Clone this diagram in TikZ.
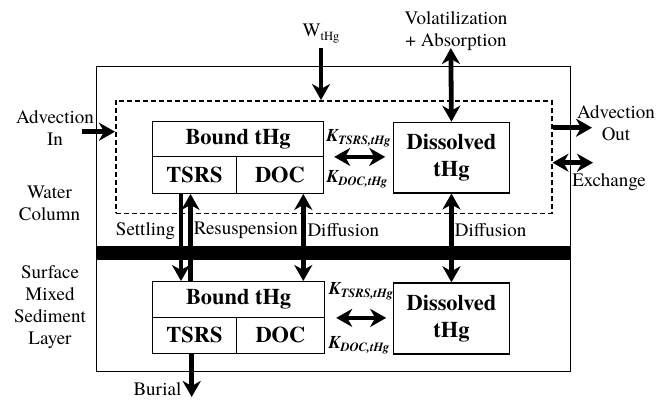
\documentclass[tikz,border=0pt]{standalone}
\usepackage{fontspec}
\setmainfont{texgyretermes}[Extension=.otf, UprightFont=*-regular, BoldFont=*-bold, ItalicFont=*-italic, BoldItalicFont=*-bolditalic]
\usetikzlibrary{arrows.meta}
\begin{document}
\begin{tikzpicture}[x=1pt,y=-1pt,
  txt/.style={inner sep=0pt, align=center, font=\fontsize{19}{22}\selectfont},
  bx/.style={draw, line width=1.2pt, inner sep=0pt, anchor=north west, align=center,
    font=\fontsize{22.4}{27}\selectfont\bfseries},
  frame/.style={draw, line width=1.1pt, inner sep=0pt, anchor=north west},
  arr/.style={line width=4.8pt, -{Stealth[length=16pt,width=18pt,inset=5pt]}},
  darr/.style={line width=4.8pt, {Stealth[length=16pt,width=18pt,inset=5pt]}-{Stealth[length=16pt,width=18pt,inset=5pt]}},
  klab/.style={inner sep=0pt}]
\useasboundingbox (0,0) rectangle (668,399);
% frames
\node[frame, minimum width=474pt, minimum height=305pt] (outer) at (96,66) {};
\node[frame, dashed, dash pattern=on 5pt off 3pt, line width=1.5pt, minimum width=436pt, minimum height=112.7pt] (wc) at (115,100) {};
\fill (96,246) rectangle (570,260);
% water column boxes
\node[bx, minimum width=171pt, minimum height=35pt] (wbt) at (152,120.7) {Bound tHg};
\node[bx, minimum width=83.7pt, minimum height=37pt] (wtsrs) at (152,155.7) {TSRS};
\node[bx, minimum width=87.3pt, minimum height=37pt] (wdoc) at (235.7,155.7) {DOC};
\node[bx, minimum width=115.3pt, minimum height=70.6pt] (dw) at (393.2,121.7) {Dissolved\\tHg};
% sediment boxes
\node[bx, minimum width=172pt, minimum height=35.7pt] (bbt) at (152,281) {Bound tHg};
\node[bx, minimum width=83.7pt, minimum height=36pt] (btsrs) at (152,316.7) {TSRS};
\node[bx, minimum width=88.3pt, minimum height=36pt] (bdoc) at (235.7,316.7) {DOC};
\node[bx, minimum width=115.3pt, minimum height=71pt] (bd) at (393.2,282.3) {Dissolved\\tHg};
% labels
\node[txt] (W) at (321,34) {W\raisebox{-4pt}{\fontsize{12.5}{14}\selectfont tHg}};
\node[txt] (vol) at (456,31) {Volatilization\\+ Absorption};
\node[txt] (ain) at (55,128.5) {Advection\\In};
\node[txt] (aout) at (616,123) {Advection\\Out};
\node[txt] (exl) at (609,181.7) {Exchange};
\node[txt] (wcl) at (49.5,203.5) {Water\\Column};
\node[txt] (sml) at (50,307.5) {Surface\\Mixed\\Sediment\\Layer};
\node[txt] (setl) at (145.5,230.7) {Settling};
\node[txt] (resl) at (245.8,230.7) {Resuspension};
\node[txt] (dif1) at (343.3,230.3) {Diffusion};
\node[txt] (dif2) at (490.7,230.3) {Diffusion};
\node[txt] (burl) at (157.5,389) {Burial};
\newcommand{\kl}[1]{{\fontsize{18}{20}\selectfont\bfseries\itshape K\raisebox{-3pt}{\fontsize{12.5}{14}\selectfont #1}}}
\node[klab] (k1) at (358.5,138.3) {\kl{TSRS,tHg}};
\node[klab] (k2) at (357,179.3) {\kl{DOC,tHg}};
\node[klab] (k3) at (361,291.7) {\kl{TSRS,tHg}};
\node[klab] (k4) at (359,345) {\kl{DOC,tHg}};
% coordinates
\coordinate (wt) at (321,48);
\coordinate (vt) at (450.8,48);
\coordinate (ai) at (82,131.7);
\coordinate (ao) at (592,127.7);
\coordinate (ex) at (593,162.7);
\coordinate (sx) at (181,0);
\coordinate (rx) at (190.5,0);
\coordinate (dx) at (303.3,0);
\coordinate (bu) at (191.7,397);
% arrows
\draw[arr] (wt) -- (wt |- wc.north);
\draw[darr] (vt) -- (dw.north);
\draw[arr] (ai) -- (ai -| wc.west);
\draw[arr] (ao -| wc.east) -- (ao);
\draw[darr] (ex -| wc.east) -- (ex);
\draw[darr] ([xshift=10pt]wbt.south east) -- ([xshift=-8pt]dw.west |- wbt.south east);
\draw[darr] ([xshift=11pt]bbt.south east) -- ([xshift=-7pt]bd.west |- bbt.south east);
\draw[arr] (sx |- wtsrs.south) -- (sx |- bbt.north);
\draw[arr] (rx |- bbt.north) -- (rx |- wtsrs.south);
\draw[darr] (dx |- wdoc.south) -- (dx |- bbt.north);
\draw[darr] (dw.south) -- (bd.north);
\draw[arr] (bu |- btsrs.south) -- (bu);
\end{tikzpicture}
\end{document}
